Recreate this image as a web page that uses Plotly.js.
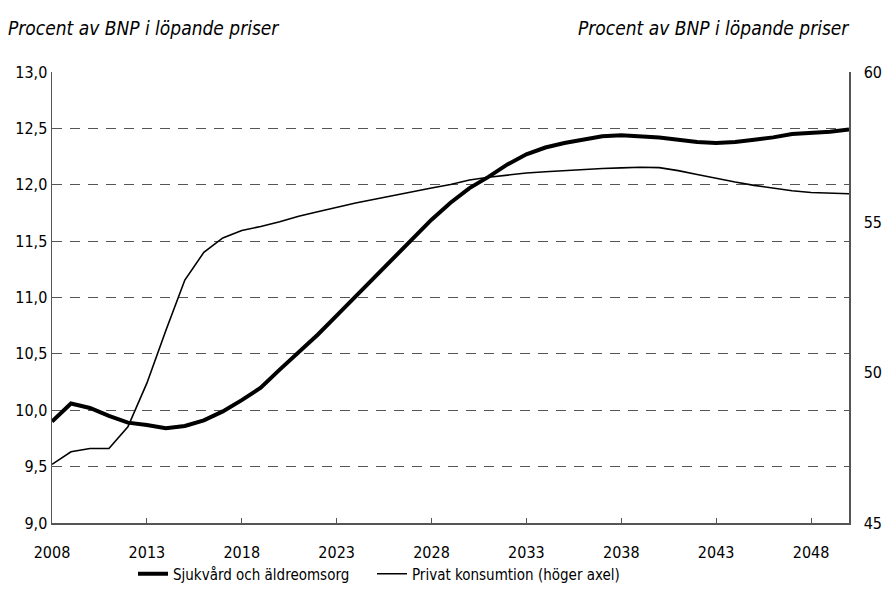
<!DOCTYPE html>
<html>
<head>
<meta charset="utf-8">
<script src="https://cdn.plot.ly/plotly-3.0.1.min.js"></script>
<style>html,body{margin:0;padding:0;background:#fff;}#chart{width:882px;height:610px;}</style>
</head>
<body>
<div id="chart"></div>
<script>
const years = [2008,2009,2010,2011,2012,2013,2014,2015,2016,2017,2018,2019,2020,2021,2022,2023,2024,2025,2026,2027,2028,2029,2030,2031,2032,2033,2034,2035,2036,2037,2038,2039,2040,2041,2042,2043,2044,2045,2046,2047,2048,2049,2050];
const sjukvard = [9.90,10.06,10.02,9.95,9.89,9.87,9.84,9.86,9.91,9.99,10.09,10.20,10.36,10.51,10.67,10.84,11.01,11.18,11.34,11.51,11.69,11.84,11.97,12.07,12.18,12.27,12.33,12.37,12.40,12.43,12.44,12.43,12.42,12.40,12.38,12.37,12.38,12.40,12.42,12.45,12.46,12.47,12.49];
const privat = [46.95,47.37,47.48,47.48,48.2,49.65,51.4,53.08,54.0,54.48,54.73,54.86,55.02,55.2,55.35,55.5,55.64,55.77,55.9,56.03,56.14,56.26,56.41,56.5,56.58,56.64,56.68,56.72,56.76,56.79,56.81,56.83,56.82,56.72,56.59,56.46,56.34,56.23,56.13,56.05,55.99,55.97,55.95];
const xTicks = [2008,2013,2018,2023,2028,2033,2038,2043,2048];
const leftTicks = [9.0,9.5,10.0,10.5,11.0,11.5,12.0,12.5,13.0];
const rightTicks = [45,50,55,60];
const seriesNames = ["Sjukvård och äldreomsorg","Privat konsumtion (höger axel)"];
const axisTitle = "Procent av BNP i löpande priser";

const FONT = "'Liberation Sans Narrow', 'DejaVu Sans Condensed', 'Arial Narrow', sans-serif";

const traces = [
  {x: years, y: sjukvard, name: seriesNames[0], type: 'scatter', mode: 'lines',
   line: {color: '#000', width: 4}, yaxis: 'y', legend: 'legend'},
  {x: years, y: privat, name: seriesNames[1], type: 'scatter', mode: 'lines',
   line: {color: '#000', width: 1.6}, yaxis: 'y2', legend: 'legend2'}
];

const legendBase = {orientation: 'h', xref: 'container', yref: 'container', y: 1 - 574/610,
  xanchor: 'left', yanchor: 'middle', font: {family: FONT, size: 15, color: '#000'},
  itemwidth: 30, bgcolor: 'rgba(0,0,0,0)'};

const layout = {
  width: 882, height: 610,
  margin: {l: 52, r: 33, t: 72, b: 87},
  paper_bgcolor: '#fff', plot_bgcolor: '#fff',
  separators: ', ',
  font: {family: FONT, size: 16, color: '#000'},
  showlegend: true,
  legend: Object.assign({}, legendBase, {x: 133/882}),
  legend2: Object.assign({}, legendBase, {x: 372/882}),
  xaxis: {range: [2008, 2050], tickmode: 'array', tickvals: xTicks, ticktext: xTicks.map(String),
          ticks: 'inside', ticklen: 5, tickcolor: '#555', showgrid: false, zeroline: false,
          ticklabelstandoff: 14,
          showline: true, linecolor: '#555', linewidth: 1.5, mirror: false, fixedrange: true},
  yaxis: {range: [9.0, 13.0], tickmode: 'array', tickvals: leftTicks, tickformat: '.1f',
          showgrid: true, gridcolor: '#555', griddash: '10px,8px', gridwidth: 1,
          showline: true, linecolor: '#555', linewidth: 1.5, ticks: '', zeroline: false, fixedrange: true},
  yaxis2: {range: [45, 60], tickmode: 'array', tickvals: rightTicks, overlaying: 'y', side: 'right',
           showgrid: false, showline: true, linecolor: '#555', linewidth: 1.5, ticks: '', zeroline: false,
           ticklabelstandoff: 10, fixedrange: true},
  annotations: [
    {text: axisTitle, xref: 'paper', yref: 'paper', x: 0, y: 1, xshift: -46, yshift: 44, xanchor: 'left', yanchor: 'middle',
     showarrow: false, font: {family: FONT, size: 19, color: '#000', style: 'italic'}},
    {text: axisTitle, xref: 'paper', yref: 'paper', x: 1, y: 1, xshift: 2, yshift: 44, xanchor: 'right', yanchor: 'middle',
     showarrow: false, font: {family: FONT, size: 19, color: '#000', style: 'italic'}}
  ]
};

Plotly.newPlot('chart', traces, layout, {displayModeBar: false, staticPlot: true});
</script>
</body>
</html>
